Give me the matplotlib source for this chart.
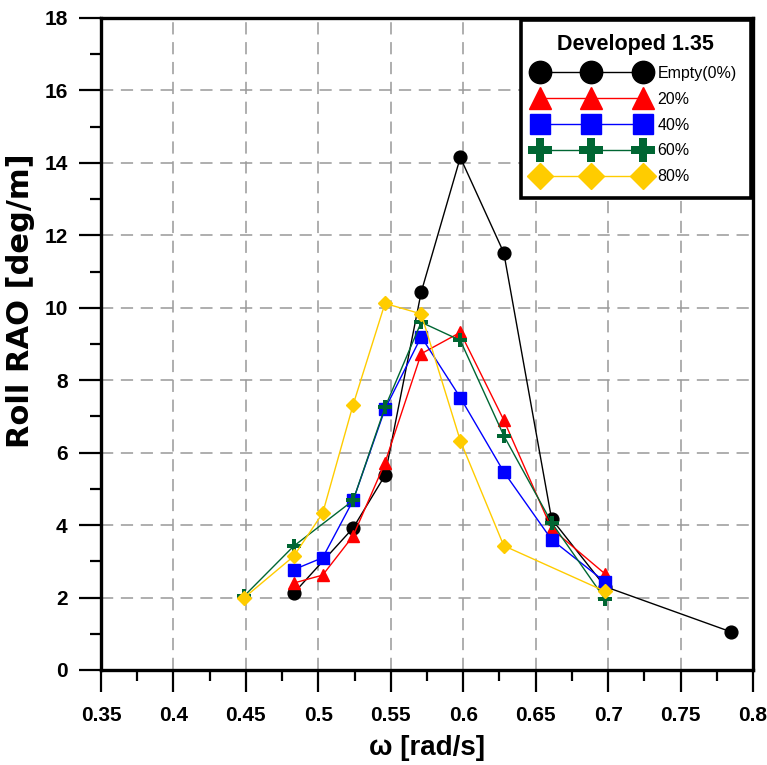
import matplotlib.pyplot as plt
import numpy as np
from matplotlib.ticker import MultipleLocator

# Roll RAO data
omega_0 = [0.483, 0.524, 0.546, 0.571, 0.598, 0.628, 0.661, 0.698, 0.785]
rao_0 = [2.12, 3.92, 5.37, 10.43, 14.15, 11.52, 4.17, 2.3, 1.05]

omega_20 = [0.483, 0.503, 0.524, 0.546, 0.571, 0.598, 0.628, 0.661, 0.698]
rao_20 = [2.4, 2.62, 3.7, 5.72, 8.73, 9.32, 6.9, 3.9, 2.65]

omega_40 = [0.483, 0.503, 0.524, 0.546, 0.571, 0.598, 0.628, 0.661, 0.698]
rao_40 = [2.77, 3.1, 4.68, 7.2, 9.2, 7.52, 5.47, 3.6, 2.43]

omega_60 = [0.449, 0.483, 0.524, 0.546, 0.571, 0.598, 0.628, 0.661, 0.698]
rao_60 = [2.05, 3.42, 4.68, 7.25, 9.6, 9.1, 6.47, 4.07, 1.95]

omega_80 = [0.449, 0.483, 0.503, 0.524, 0.546, 0.571, 0.598, 0.628, 0.698]
rao_80 = [2.0, 3.14, 4.33, 7.32, 10.12, 9.83, 6.33, 3.43, 2.17]

xtick_labels = ['0.35', '0.4', '0.45', '0.5', '0.55', '0.6', '0.65', '0.7', '0.75', '0.8']

plt.rcParams['font.family'] = ['Liberation Sans', 'DejaVu Sans']

fig = plt.figure(figsize=(7.67, 7.65), dpi=100)
ax = fig.add_axes([0.1317, 0.1242, 0.85, 0.8523])

ax.plot(omega_0, rao_0, color='black', lw=1.0, marker='o', ms=9.2, label='Empty(0%)')
ax.plot(omega_20, rao_20, color='red', lw=1.0, marker='^', ms=9, label='20%')
ax.plot(omega_40, rao_40, color='blue', lw=1.0, marker='s', ms=8.5, label='40%')
ax.plot(omega_60, rao_60, color='#006633', lw=1.0, marker='P', ms=9.5, mew=0, label='60%')
ax.plot(omega_80, rao_80, color='#ffcc00', lw=1.0, marker='D', ms=7.5, label='80%')

ax.set_xlim(0.35, 0.8)
ax.set_ylim(0, 18)
ax.xaxis.set_minor_locator(MultipleLocator(0.025))
ax.yaxis.set_major_locator(MultipleLocator(2))
ax.yaxis.set_minor_locator(MultipleLocator(1))
ax.set_xticks(np.arange(0.35, 0.801, 0.05))
ax.set_xticklabels(xtick_labels)

ax.grid(True, which='major', color='#999999', linestyle=(0, (8, 5)), linewidth=1.1)

for s in ax.spines.values():
    s.set_linewidth(2.4)

ax.tick_params(which='major', direction='out', length=16, width=1.6, labelsize=15, pad=8)
ax.tick_params(which='minor', direction='out', length=8, width=1.6)
ax.tick_params(axis='x', which='major', pad=10)
for lbl in ax.get_xticklabels() + ax.get_yticklabels():
    lbl.set_fontweight('bold')

ax.set_xlabel('ω [rad/s]', fontsize=20, fontweight='bold', labelpad=7)
ax.set_ylabel('Roll RAO [deg/m]', fontsize=22, fontweight='bold', family='DejaVu Sans')
ax.yaxis.set_label_coords(-0.102, 0.566)

leg = ax.legend(loc='upper right', numpoints=3, handlelength=7.1, markerscale=1.75,
                fontsize=11.5, title='Developed 1.35', fancybox=False, framealpha=1,
                edgecolor='black', borderaxespad=0.15, borderpad=0.85,
                labelspacing=0.68, handletextpad=0.6,
                title_fontproperties={'weight': 'bold', 'size': 15.5})
leg.get_frame().set_linewidth(2.6)

fig.savefig('out.png', dpi=100)
